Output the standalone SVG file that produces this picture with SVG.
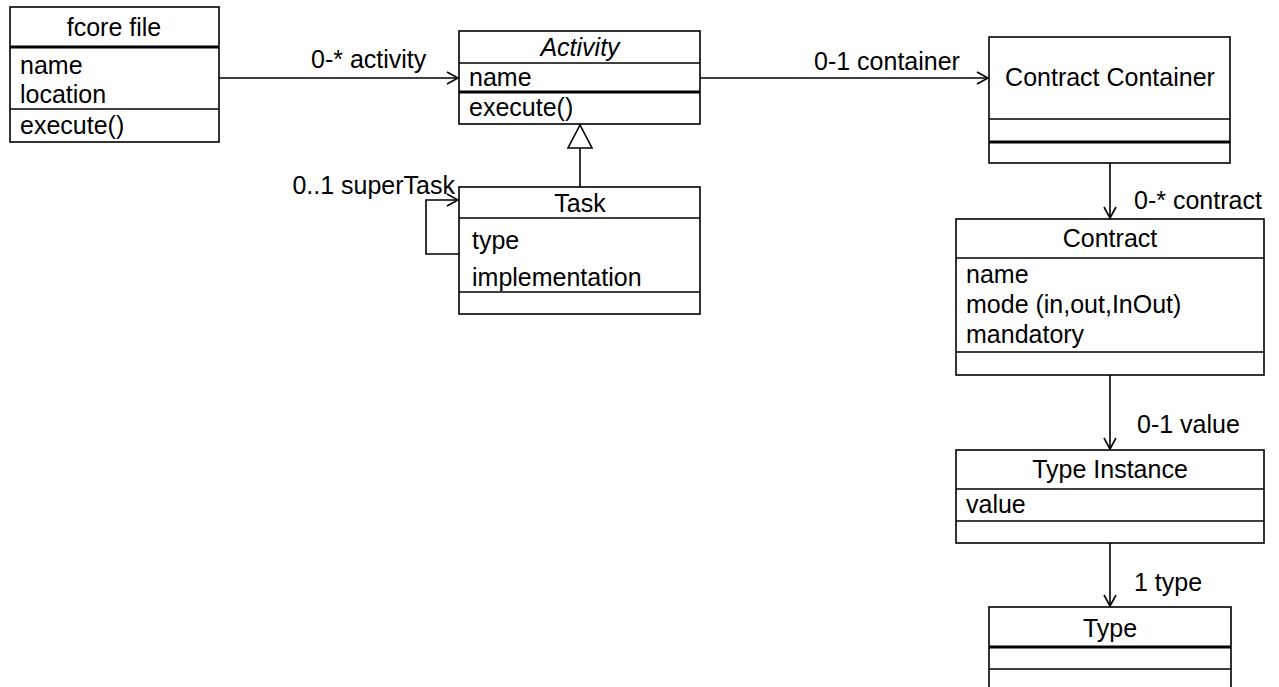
<svg xmlns="http://www.w3.org/2000/svg" width="1279" height="687" viewBox="0 0 1279 687">
<style>
.box{fill:#fff;stroke:#000;stroke-width:1.6}
.sep{stroke:#000;stroke-width:1.6}
.thk{stroke:#000;stroke-width:3}
text{font-family:"Liberation Sans",Arial,sans-serif;font-size:25px;fill:#000}
.c{text-anchor:middle}
.con{fill:none;stroke:#000;stroke-width:1.6}
</style>
<defs>
<marker id="open" markerWidth="14" markerHeight="14" refX="12" refY="7" orient="auto" markerUnits="userSpaceOnUse">
<path d="M1,1 L12,7 L1,13" fill="none" stroke="#000" stroke-width="1.6"/>
</marker>
</defs>
<g id="fcore">
<rect class="box" x="10" y="7" width="209" height="135"/>
<line class="thk" x1="10" y1="47" x2="219" y2="47"/>
<line class="sep" x1="10" y1="109" x2="219" y2="109"/>
<text class="c" x="114" y="36">fcore file</text>
<text x="20" y="74">name</text>
<text x="20" y="103">location</text>
<text x="20" y="134">execute()</text>
</g>
<g id="activity">
<rect class="box" x="459" y="31" width="241" height="93"/>
<line class="sep" x1="459" y1="63" x2="700" y2="63"/>
<line class="thk" x1="459" y1="92" x2="700" y2="92"/>
<text class="c" x="580" y="56" font-style="italic">Activity</text>
<text x="469" y="86">name</text>
<text x="469" y="116">execute()</text>
</g>
<g id="task">
<rect class="box" x="459" y="187" width="241" height="127"/>
<line class="sep" x1="459" y1="218" x2="700" y2="218"/>
<line class="sep" x1="459" y1="292" x2="700" y2="292"/>
<text class="c" x="580" y="212">Task</text>
<text x="472" y="249">type</text>
<text x="472" y="286">implementation</text>
</g>
<g id="contract-container">
<rect class="box" x="989" y="37" width="241" height="126"/>
<line class="sep" x1="989" y1="119" x2="1230" y2="119"/>
<line class="thk" x1="989" y1="142" x2="1230" y2="142"/>
<text class="c" x="1110" y="86">Contract Container</text>
</g>
<g id="contract">
<rect class="box" x="956" y="219" width="308" height="156"/>
<line class="sep" x1="956" y1="258" x2="1264" y2="258"/>
<line class="sep" x1="956" y1="352" x2="1264" y2="352"/>
<text class="c" x="1110" y="247">Contract</text>
<text x="966" y="283">name</text>
<text x="966" y="313">mode (in,out,InOut)</text>
<text x="966" y="343">mandatory</text>
</g>
<g id="type-instance">
<rect class="box" x="956" y="450" width="308" height="93"/>
<line class="sep" x1="956" y1="489" x2="1264" y2="489"/>
<line class="sep" x1="956" y1="521" x2="1264" y2="521"/>
<text class="c" x="1110" y="478">Type Instance</text>
<text x="966" y="513">value</text>
</g>
<g id="type">
<rect class="box" x="989" y="607" width="242" height="90"/>
<line class="thk" x1="989" y1="647" x2="1231" y2="647"/>
<line class="sep" x1="989" y1="669" x2="1231" y2="669"/>
<text class="c" x="1110" y="637">Type</text>
</g>
<g id="connectors">
<line class="con" x1="219" y1="78" x2="458" y2="78" marker-end="url(#open)"/>
<text x="311" y="68">0-* activity</text>
<line class="con" x1="700" y1="78" x2="988" y2="78" marker-end="url(#open)"/>
<text x="814" y="70">0-1 container</text>
<line class="con" x1="580" y1="187" x2="580" y2="148"/>
<path d="M580,125 L568,148 L592,148 Z" fill="#fff" stroke="#000" stroke-width="1.6"/>
<path class="con" d="M459,254 L426,254 L426,200 L458,200" marker-end="url(#open)"/>
<text x="455" y="194" text-anchor="end">0..1 superTask</text>
<line class="con" x1="1110" y1="163" x2="1110" y2="218" marker-end="url(#open)"/>
<text x="1134" y="209">0-* contract</text>
<line class="con" x1="1110" y1="375" x2="1110" y2="449" marker-end="url(#open)"/>
<text x="1137" y="433">0-1 value</text>
<line class="con" x1="1110" y1="543" x2="1110" y2="606" marker-end="url(#open)"/>
<text x="1134" y="591">1 type</text>
</g>
</svg>
